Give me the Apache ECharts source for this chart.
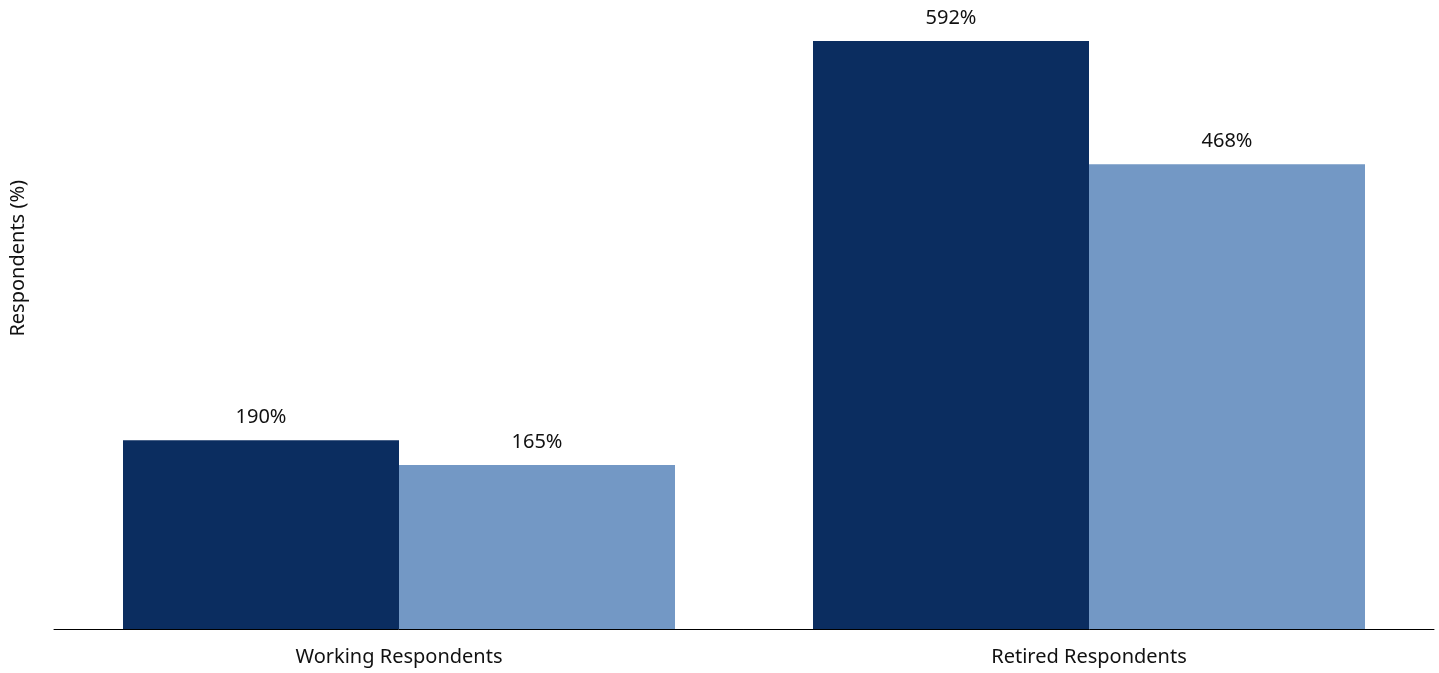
<!DOCTYPE html>
<html>
<head>
<meta charset="utf-8">
<script src="https://cdn.jsdelivr.net/npm/echarts@6/dist/echarts.min.js"></script>
<style>
  html, body { margin: 0; padding: 0; background: #fff; }
  #chart { width: 1439px; height: 673px; }
</style>
</head>
<body>
<div id="chart"></div>
<script>
// Respondent groups along the x axis
const categories = ['Working Respondents', 'Retired Respondents'];
// Two comparison series per group
const seriesDark = [190, 592];
const seriesLight = [165, 468];
const yAxisTitle = 'Respondents (%)';

const FONT = '"Noto Sans", "Open Sans", sans-serif';

const chart = echarts.init(document.getElementById('chart'), null, { renderer: 'canvas' });

const labelStyle = {
  show: true,
  position: 'top',
  distance: 13,
  color: '#111',
  fontFamily: FONT,
  fontSize: 20,
  formatter: p => p.value + '%'
};

chart.setOption({
  animation: false,
  grid: { left: 54, right: 5, top: 41, bottom: 44, containLabel: false },
  xAxis: {
    type: 'category',
    data: categories,
    axisLine: { show: true, lineStyle: { color: '#000', width: 1 } },
    axisTick: { show: false },
    axisLabel: { color: '#111', fontFamily: FONT, fontSize: 20, margin: 18 }
  },
  yAxis: {
    type: 'value',
    min: 0,
    max: 592,
    axisLine: { show: false },
    axisTick: { show: false },
    axisLabel: { show: false },
    splitLine: { show: false }
  },
  graphic: [{
    type: 'text',
    left: 8,
    top: 180,
    rotation: Math.PI / 2,
    style: {
      text: yAxisTitle,
      fill: '#111',
      font: '20px ' + FONT
    }
  }],
  series: [
    {
      type: 'bar',
      data: seriesDark,
      barWidth: '40%',
      barGap: '0%',
      itemStyle: { color: '#0B2D60' },
      label: labelStyle
    },
    {
      type: 'bar',
      data: seriesLight,
      barWidth: '40%',
      barGap: '0%',
      itemStyle: { color: '#7398C5' },
      label: labelStyle
    }
  ]
});
</script>
</body>
</html>
